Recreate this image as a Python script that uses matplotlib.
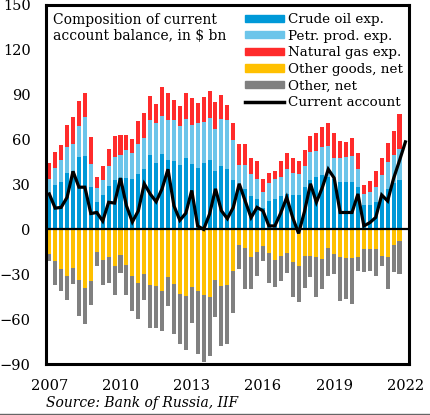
import numpy as np
import matplotlib
matplotlib.use("Agg")
import matplotlib.pyplot as plt
from matplotlib.lines import Line2D
from matplotlib.patches import Patch

plt.rcParams['font.family'] = ['DejaVu Serif']

year_labels = ["2007", "2010", "2013", "2016", "2019", "2022"]

crude_oil = [23.7, 29.8, 31.8, 37.9, 39.3, 48.1, 48.8, 28.4, 18.3, 23.0,
             29.1, 33.2, 34.5, 34.5, 33.9, 37.2, 40.6, 49.4, 44.7, 50.1,
             46.7, 46.0, 43.3, 47.4, 44.0, 41.3, 44.7, 46.7, 39.3, 42.7,
             40.6, 33.2, 27.1, 27.1, 22.1, 20.3, 14.4, 19.2, 20.3, 22.1,
             23.7, 23.0, 23.0, 28.2, 32.7, 35.0, 36.1, 35.0, 33.9, 31.6,
             31.6, 31.6, 28.2, 16.2, 16.5, 18.5, 22.0, 27.1, 31.0, 33.2]
petr_prod = [10.2, 11.5, 14.5, 17.0, 17.6, 21.0, 26.4, 15.6, 9.5, 10.2,
             13.6, 14.9, 14.9, 18.3, 16.9, 19.7, 20.3, 23.7, 26.4, 25.7,
             26.4, 27.1, 25.8, 26.4, 25.8, 29.8, 27.1, 27.8, 27.7, 31.1,
             32.5, 26.4, 16.2, 16.2, 15.1, 13.6, 10.4, 12.0, 13.6, 13.1,
             16.5, 14.9, 13.8, 14.0, 19.2, 17.4, 18.8, 20.8, 14.0, 16.3,
             16.5, 17.6, 12.4, 7.5, 8.3, 9.7, 14.1, 18.0, 18.6, 20.3]
natural_gas = [10.8, 10.2, 9.9, 14.9, 18.3, 16.9, 16.2, 17.6, 7.4, 9.5,
               10.8, 14.2, 13.6, 10.2, 9.5, 15.6, 17.2, 16.3, 12.9, 19.7,
               18.3, 13.6, 13.5, 17.6, 18.2, 13.6, 16.9, 18.3, 18.3, 16.3,
               10.2, 11.5, 13.6, 13.6, 10.2, 11.5, 9.1, 6.7, 5.4, 10.2,
               10.6, 9.5, 9.2, 10.6, 10.4, 11.9, 13.5, 15.3, 16.4, 11.5,
               10.1, 11.7, 10.2, 6.1, 7.8, 10.5, 11.3, 12.4, 15.9, 23.8]
other_goods = [-16.3, -21.4, -26.4, -31.2, -25.7, -33.9, -39.3, -34.5, -14.9, -20.3,
               -18.3, -24.4, -16.9, -23.7, -31.2, -35.9, -29.8, -37.2, -37.9, -41.3,
               -31.8, -36.6, -43.3, -44.7, -38.6, -41.3, -44.0, -45.4, -33.9, -37.9,
               -37.2, -27.8, -10.2, -12.2, -18.3, -14.9, -10.8, -15.6, -20.3, -17.6,
               -15.6, -21.7, -24.4, -17.6, -17.6, -18.3, -19.6, -12.2, -16.3, -18.3,
               -19.0, -19.0, -18.3, -12.9, -12.9, -12.9, -17.6, -18.3, -10.2, -8.1]
other_net = [-5.1, -15.8, -14.9, -16.2, -10.9, -23.7, -23.7, -16.3, -9.5, -16.9,
             -17.6, -19.6, -12.2, -20.3, -23.7, -23.7, -17.6, -28.5, -27.8, -26.4,
             -19.7, -33.1, -33.2, -35.9, -23.7, -42.0, -44.7, -39.3, -25.0, -40.0,
             -39.3, -28.4, -16.2, -27.5, -21.4, -16.3, -10.2, -20.3, -18.3, -16.9,
             -13.5, -23.7, -24.4, -21.7, -14.2, -27.1, -20.3, -19.0, -13.5, -29.8,
             -27.7, -31.1, -9.5, -15.5, -14.9, -18.3, -6.8, -21.6, -18.2, -21.7]
current_account = [23.7, 14.2, 14.7, 21.4, 38.8, 28.2, 28.2, 10.6, 11.3, 5.6,
                   18.1, 17.6, 34.3, 15.8, 5.0, 12.4, 30.5, 23.7, 18.5, 27.1,
                   40.2, 15.8, 6.1, 10.8, 26.0, 2.3, 0.0, 10.2, 27.1, 12.4,
                   7.2, 14.7, 30.5, 19.0, 7.9, 14.7, 12.4, 2.3, 2.3, 11.0,
                   21.4, 8.0, -2.7, 12.0, 30.5, 18.1, 28.0, 40.2, 34.3, 11.3,
                   11.3, 11.3, 23.7, 2.3, 4.5, 8.0, 23.0, 19.0, 34.0, 46.0,
                   58.5]

C_CRUDE = "#0099d8"
C_PETR = "#6cc5ea"
C_GAS = "#ff2b2b"
C_GOODS = "#ffc000"
C_OTHER = "#808080"

W, H = 430, 415
fig = plt.figure(figsize=(W / 100, H / 100), dpi=100)
ax = fig.add_axes([46 / W, 1 - 364 / H, (409 - 46) / W, (364 - 5) / H])

x = np.arange(len(crude_oil))
xl = np.arange(len(current_account))
crude = np.array(crude_oil)
petr = np.array(petr_prod)
gas = np.array(natural_gas)
goods = np.array(other_goods)
oth = np.array(other_net)

bw = 0.68
ax.bar(x, crude, bw, color=C_CRUDE, zorder=2)
ax.bar(x, petr, bw, bottom=crude, color=C_PETR, zorder=2)
ax.bar(x, gas, bw, bottom=crude + petr, color=C_GAS, zorder=2)
ax.bar(x, goods, bw, color=C_GOODS, zorder=2)
ax.bar(x, oth, bw, bottom=goods, color=C_OTHER, zorder=2)
ax.axhline(0, color="black", lw=1.6, zorder=3)
ax.plot(xl, current_account, color="black", lw=2.3, zorder=4,
        solid_joinstyle="miter")

ax.set_xlim(-0.55, 60.6)
ax.set_ylim(-90, 150)
ax.set_yticks(np.arange(-90, 151, 30))
ax.set_xticks(np.arange(0, 61, 12))
ax.set_xticklabels(year_labels)
ax.tick_params(length=0, labelsize=10.5)
ax.tick_params(axis="y", pad=11)
ax.tick_params(axis="x", pad=11)
for s in ax.spines.values():
    s.set_linewidth(2.2)
    s.set_color("black")

fig.text(53 / W, 1 - 13 / H, "Composition of current\naccount balance, in $ bn",
         ha="left", va="top", fontsize=10, linespacing=1.2)

handles = [Patch(color=C_CRUDE), Patch(color=C_PETR), Patch(color=C_GAS),
           Patch(color=C_GOODS), Patch(color=C_OTHER),
           Line2D([], [], color="black", lw=2.5)]
labels = ["Crude oil exp.", "Petr. prod. exp.", "Natural gas exp.",
          "Other goods, net", "Other, net", "Current account"]
fig.legend(handles, labels, loc="upper left",
           bbox_to_anchor=(245 / W, 1 - 13 / H), frameon=False,
           fontsize=9.7, handlelength=2.9, handleheight=0.45,
           handletextpad=0.3, labelspacing=0.27, borderpad=0,
           borderaxespad=0)

fig.text(46 / W, 1 - 403 / H, "Source: Bank of Russia, IIF", style="italic",
         fontsize=10, ha="left", va="center")
fig.add_artist(Line2D([0, 1], [1.5 / H, 1.5 / H], color="#666666", lw=1,
                      transform=fig.transFigure))

fig.savefig("out.png", dpi=100)
